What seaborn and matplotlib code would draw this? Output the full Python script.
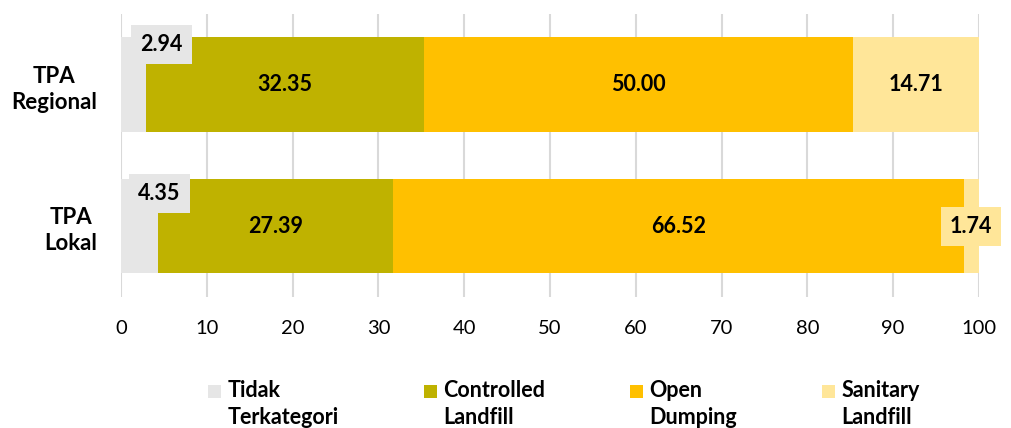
import matplotlib
matplotlib.use("Agg")
import matplotlib.pyplot as plt
from matplotlib.patches import Rectangle
from matplotlib.legend_handler import HandlerPatch
import numpy as np
import pandas as pd
import seaborn as sns

# Share (%) of landfill type per TPA category
categories = ["TPA\nRegional", "TPA\nLokal"]
tidak_terkategori = [2.94, 4.35]
controlled_landfill = [32.35, 27.39]
open_dumping = [50.00, 66.52]
sanitary_landfill = [14.71, 1.74]

series_names = ["Tidak\nTerkategori", "Controlled\nLandfill", "Open\nDumping", "Sanitary\nLandfill"]
series_values = [tidak_terkategori, controlled_landfill, open_dumping, sanitary_landfill]
colors = ["#E6E6E6", "#BFB200", "#FFC000", "#FFE699"]

# Callout placement for narrow segments: (row, series) -> (x, y offset from row) in data units
callouts = {(0, 0): (4.72, -0.286), (1, 0): (4.49, -0.233), (1, 3): (99.1, 0.005)}

sns.set_theme(style="white")
plt.rcParams["font.family"] = ["Lato", "DejaVu Sans"]
plt.rcParams["text.color"] = "black"
plt.rcParams["xtick.color"] = "black"
plt.rcParams["ytick.color"] = "black"

fig = plt.figure(figsize=(10.11, 4.28), dpi=100)
ax = fig.add_axes([0.1197, 0.3066, 0.8486, 0.6612])

cum = np.zeros(len(categories))
cums = []
for vals in series_values:
    cum = cum + np.array(vals)
    cums.append(cum.copy())

# Stacked bars: cumulative totals drawn back to front
for i in range(len(series_values) - 1, -1, -1):
    d = pd.DataFrame({"cat": categories, "val": cums[i]})
    sns.barplot(data=d, x="val", y="cat", orient="h", color=colors[i],
                width=0.67, saturation=1, linewidth=0, edgecolor="none",
                ax=ax, zorder=2)

ax.set_xlim(0, 100)
ax.set_ylim(1.5, -0.5)
ax.set_xticks(np.arange(0, 101, 10))
ax.xaxis.grid(True, color="#D9D9D9", linewidth=1.5, zorder=0)
ax.set_axisbelow(True)
for s in ax.spines.values():
    s.set_visible(False)
ax.set_xlabel("")
ax.set_ylabel("")
ax.tick_params(axis="x", labelsize=14.5, length=0, pad=17)
ax.tick_params(axis="y", labelsize=16, length=0, pad=17)
for lbl in ax.get_yticklabels():
    lbl.set_fontweight("bold")
    lbl.set_multialignment("center")
    lbl.set_linespacing(1.3)

# Value labels
label_font = dict(fontsize=15.5, fontweight="bold", color="black", ha="center", va="center")
for row in range(len(categories)):
    left = 0.0
    for i, vals in enumerate(series_values):
        v = vals[row]
        txt = f"{v:.2f}"
        if (row, i) in callouts:
            x, dy = callouts[(row, i)]
            ax.text(x, row + dy, txt, zorder=5,
                    bbox=dict(boxstyle="square,pad=0.42", facecolor=colors[i], edgecolor="none"),
                    **label_font)
        else:
            ax.text(left + v / 2, row, txt, zorder=5, **label_font)
        left += v


def square_marker(legend, orig_handle, xdescent, ydescent, width, height, fontsize):
    size = 9.4
    return Rectangle((width - size, height / 2 - size / 2 + 10), size, size)


handles = [Rectangle((0, 0), 1, 1, facecolor=c, edgecolor="none") for c in colors]
leg = fig.legend(handles, series_names, loc="upper left", bbox_to_anchor=(0.2040, 0.111),
                 ncol=4, frameon=False, borderpad=0, borderaxespad=0,
                 handlelength=0.7, handletextpad=0.3, columnspacing=3.85,
                 prop=dict(size=15.5, weight="bold"),
                 handler_map={Rectangle: HandlerPatch(patch_func=square_marker)})
for t in leg.get_texts():
    t.set_linespacing(1.3)

fig.savefig("out.png", dpi=100)
